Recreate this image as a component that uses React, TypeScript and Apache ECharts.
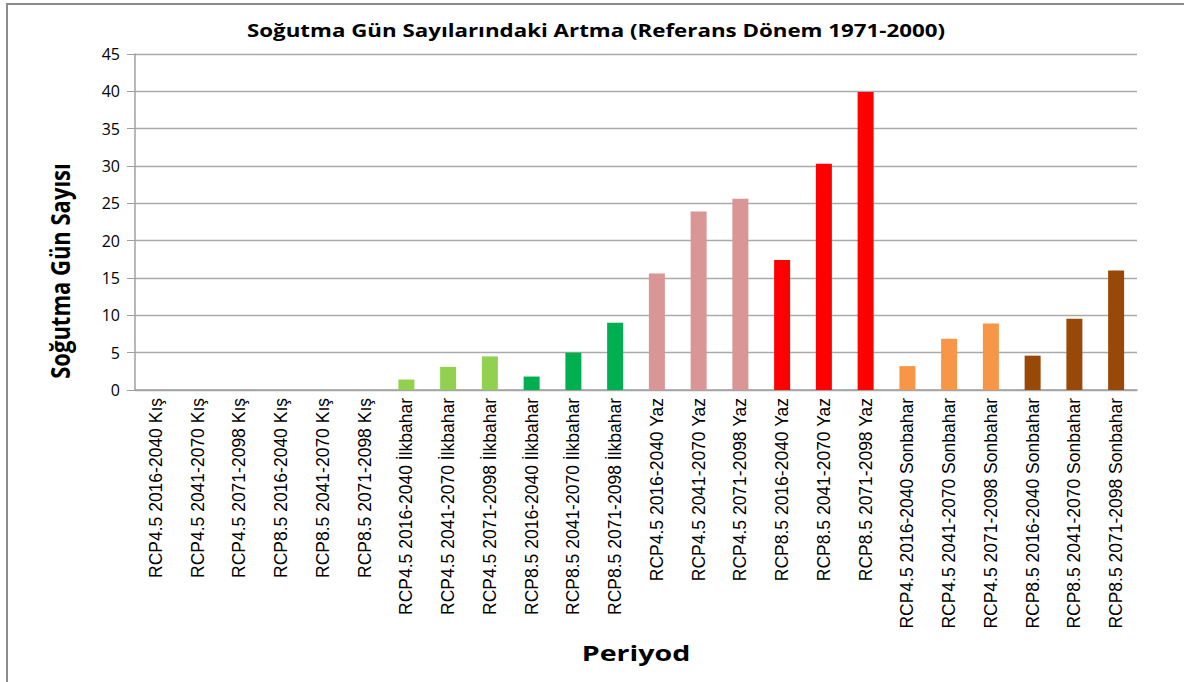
import React, { useEffect, useRef } from "react";
import * as echarts from "echarts";

const categories = [
  "RCP4.5 2016-2040 Kış",
  "RCP4.5 2041-2070 Kış",
  "RCP4.5 2071-2098 Kış",
  "RCP8.5 2016-2040 Kış",
  "RCP8.5 2041-2070 Kış",
  "RCP8.5 2071-2098 Kış",
  "RCP4.5 2016-2040 İlkbahar",
  "RCP4.5 2041-2070 İlkbahar",
  "RCP4.5 2071-2098 İlkbahar",
  "RCP8.5 2016-2040 İlkbahar",
  "RCP8.5 2041-2070 İlkbahar",
  "RCP8.5 2071-2098 İlkbahar",
  "RCP4.5 2016-2040 Yaz",
  "RCP4.5 2041-2070 Yaz",
  "RCP4.5 2071-2098 Yaz",
  "RCP8.5 2016-2040 Yaz",
  "RCP8.5 2041-2070 Yaz",
  "RCP8.5 2071-2098 Yaz",
  "RCP4.5 2016-2040 Sonbahar",
  "RCP4.5 2041-2070 Sonbahar",
  "RCP4.5 2071-2098 Sonbahar",
  "RCP8.5 2016-2040 Sonbahar",
  "RCP8.5 2041-2070 Sonbahar",
  "RCP8.5 2071-2098 Sonbahar",
];

const values = [
  0, 0, 0, 0, 0, 0,
  1.4, 3.1, 4.5, 1.8, 5.0, 9.0,
  15.6, 23.9, 25.6, 17.4, 30.3, 39.9,
  3.2, 6.85, 8.9, 4.6, 9.55, 16.0,
];

const barColors = [
  "#92D050", "#92D050", "#92D050", "#00B050", "#00B050", "#00B050",
  "#92D050", "#92D050", "#92D050", "#00B050", "#00B050", "#00B050",
  "#D99694", "#D99694", "#D99694", "#FF0000", "#FF0000", "#FF0000",
  "#F79646", "#F79646", "#F79646", "#984807", "#984807", "#984807",
];

const titleText = "Soğutma Gün Sayılarındaki Artma (Referans Dönem 1971-2000)";
const yAxisTitle = "Soğutma Gün Sayısı";
const xAxisTitle = "Periyod";

export default function App() {
  const ref = useRef<HTMLDivElement>(null);
  useEffect(() => {
    document.body.style.margin = "0";
    if (!ref.current) return;
    const chart = echarts.init(ref.current, null, { renderer: "svg" });
    chart.setOption({
      animation: false,
      backgroundColor: "#ffffff",
      grid: { left: 135, right: 47, top: 54, bottom: 292, containLabel: false },
      xAxis: {
        type: "category",
        data: categories,
        axisLine: { show: true, lineStyle: { color: "#A0A0A0", width: 1.5 } },
        axisTick: { show: false },
        axisLabel: {
          rotate: 90,
          interval: 0,
          margin: 8,
          fontFamily: "Liberation Sans",
          fontSize: 17.5,
          color: "#000000",
        },
      },
      yAxis: {
        type: "value",
        min: 0,
        max: 45,
        interval: 5,
        axisLine: { show: true, lineStyle: { color: "#A0A0A0", width: 1.5 } },
        axisTick: { show: true, length: 8, lineStyle: { color: "#A0A0A0" } },
        splitLine: { show: true, lineStyle: { color: "#AAAAAA", width: 1.3 } },
        axisLabel: {
          margin: 15,
          fontFamily: "Open Sans",
          fontSize: 16,
          color: "#000000",
        },
      },
      series: [
        {
          type: "bar",
          barWidth: 16,
          data: values.map((v, i) => ({ value: v, itemStyle: { color: barColors[i] } })),
        },
      ],
      graphic: [
        {
          type: "rect",
          shape: { x: 7, y: 4, width: 1200, height: 700 },
          style: { fill: "none", stroke: "#8C8C8C", lineWidth: 2 },
          silent: true,
        },
        {
          type: "text",
          x: 596,
          y: 30,
          scaleX: 1.24,
          style: {
            text: titleText,
            fontFamily: "Open Sans",
            fontWeight: "bold",
            fontSize: 18,
            fill: "#000000",
            align: "center",
            verticalAlign: "middle",
          },
        },
        {
          type: "text",
          x: 60,
          y: 271,
          rotation: Math.PI / 2,
          scaleY: 1.2,
          style: {
            text: yAxisTitle,
            fontFamily: "Open Sans",
            fontWeight: "bold",
            fontSize: 22,
            fill: "#000000",
            align: "center",
            verticalAlign: "middle",
          },
        },
        {
          type: "text",
          x: 636,
          y: 652,
          scaleX: 1.3,
          style: {
            text: xAxisTitle,
            fontFamily: "Open Sans",
            fontWeight: "bold",
            fontSize: 22,
            fill: "#000000",
            align: "center",
            verticalAlign: "middle",
          },
        },
      ],
    });
    return () => chart.dispose();
  }, []);
  return <div ref={ref} style={{ width: 1184, height: 682 }} />;
}
